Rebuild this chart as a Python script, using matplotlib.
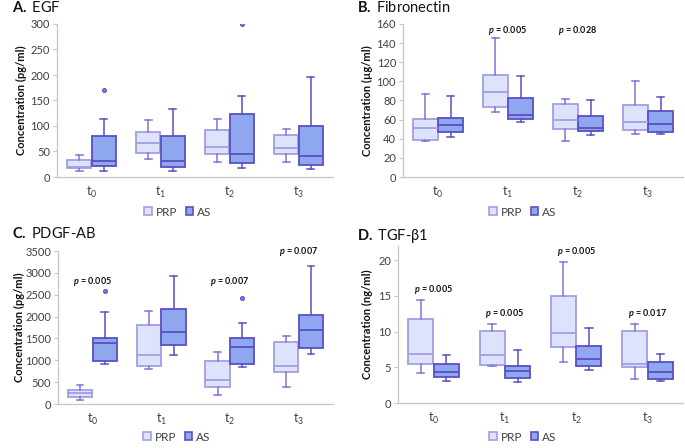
import matplotlib
matplotlib.use("Agg")
import matplotlib.pyplot as plt
from matplotlib.patches import Patch
import numpy as np

plt.rcParams['font.family'] = ['Lato', 'DejaVu Sans']
plt.rcParams['mathtext.fontset'] = 'custom'
plt.rcParams['mathtext.rm'] = 'Lato'
plt.rcParams['mathtext.it'] = 'Lato:italic'
plt.rcParams['mathtext.bf'] = 'Lato:bold'
plt.rcParams['mathtext.bfit'] = 'Lato:bold:italic'

timepoints = [r'$\mathregular{t_0}$', r'$\mathregular{t_1}$', r'$\mathregular{t_2}$', r'$\mathregular{t_3}$']

# ---- A. EGF (pg/ml) ----
egf_prp_lo  = [12, 36, 29, 29]
egf_prp_q1  = [17, 48, 46, 46]
egf_prp_med = [20, 67, 58, 57]
egf_prp_q3  = [33, 88, 92, 83]
egf_prp_hi  = [44, 111, 113, 95]
egf_prp_out = [[], [], [], []]
egf_as_lo  = [12, 12, 17, 15]
egf_as_q1  = [22, 20, 28, 24]
egf_as_med = [32, 32, 46, 41]
egf_as_q3  = [80, 80, 124, 100]
egf_as_hi  = [113, 134, 158, 196]
egf_as_out = [[170], [], [300], []]
egf_p = [None, None, None, None]

# ---- B. Fibronectin (ug/ml) ----
fn_prp_lo  = [38, 68, 38, 45]
fn_prp_q1  = [39, 73, 50, 49]
fn_prp_med = [51, 89, 60, 58]
fn_prp_q3  = [61, 107, 76, 75]
fn_prp_hi  = [87, 145, 82, 100]
fn_prp_out = [[], [], [], []]
fn_as_lo  = [42, 58, 44, 45]
fn_as_q1  = [47, 61, 48, 47]
fn_as_med = [54, 65, 51, 55]
fn_as_q3  = [62, 83, 64, 69]
fn_as_hi  = [85, 106, 81, 84]
fn_as_out = [[], [], [], []]
fn_p = [None, '0.005', '0.028', None]
fn_p_y = [None, 153, 153, None]

# ---- C. PDGF-AB (pg/ml) ----
pd_prp_lo  = [84, 807, 213, 388]
pd_prp_q1  = [150, 880, 390, 730]
pd_prp_med = [255, 1126, 550, 860]
pd_prp_q3  = [330, 1805, 985, 1420]
pd_prp_hi  = [430, 2120, 1200, 1560]
pd_prp_out = [[], [], [], []]
pd_as_lo  = [925, 1126, 845, 1141]
pd_as_q1  = [985, 1340, 925, 1285]
pd_as_med = [1405, 1655, 1305, 1697]
pd_as_q3  = [1520, 2180, 1520, 2045]
pd_as_hi  = [2105, 2930, 1857, 3165]
pd_as_out = [[2595], [], [2435], []]
pd_p = ['0.005', None, '0.007', '0.007']
pd_p_y = [2800, None, 2800, 3500]

# ---- D. TGF-b1 (ng/ml) ----
tg_prp_lo  = [4.2, 5.15, 5.7, 3.4]
tg_prp_q1  = [5.5, 5.35, 7.8, 5.0]
tg_prp_med = [6.8, 6.7, 9.75, 5.4]
tg_prp_q3  = [11.8, 10.05, 15.05, 10.15]
tg_prp_hi  = [14.5, 11.05, 19.75, 11.05]
tg_prp_out = [[], [], [], []]
tg_as_lo  = [3.05, 2.95, 4.65, 3.05]
tg_as_q1  = [3.6, 3.5, 5.15, 3.3]
tg_as_med = [4.4, 4.5, 6.2, 4.4]
tg_as_q3  = [5.5, 5.2, 7.95, 5.7]
tg_as_hi  = [6.7, 7.4, 10.45, 6.8]
tg_as_out = [[], [], [], []]
tg_p = ['0.005', '0.005', '0.005', '0.017']
tg_p_y = [15.9, 12.5, 21.2, 12.5]

PRP_FILL = '#dde3fb'
PRP_EDGE = '#a39ee4'
PRP_WHISK = '#7d74d6'
AS_FILL = '#8ea7ef'
AS_EDGE = '#5a4fc2'
AS_WHISK = '#5a4fc2'
SPINE = '#c6c6c6'
TXT = '#404040'

W, H = 685, 448
fig = plt.figure(figsize=(W / 100, H / 100), dpi=100)


def ax_rect(l, r, t, b):
    return [l / W, 1 - b / H, (r - l) / W, (b - t) / H]


def stats(lo, q1, med, q3, hi, out):
    return [dict(whislo=lo[i], q1=q1[i], med=med[i], q3=q3[i], whishi=hi[i],
                 fliers=np.array(out[i], dtype=float)) for i in range(len(lo))]


def draw_panel(rect, prp, asd, ylim, yticks, ylabel, title_b, title_n, title_xy,
               ylab_x, pvals, pys, legend_xy):
    ax = fig.add_axes(rect)
    pos = np.arange(4)
    off = 0.18
    bw = 0.35
    for st, p, fill, edge, wcol in [(prp, pos - off, PRP_FILL, PRP_EDGE, PRP_WHISK),
                                    (asd, pos + off, AS_FILL, AS_EDGE, AS_WHISK)]:
        ax.bxp(st, positions=p, widths=bw, capwidths=0.1, patch_artist=True,
               showfliers=True,
               boxprops=dict(facecolor=fill, edgecolor=edge, linewidth=1.3),
               medianprops=dict(color=edge, linewidth=1.3),
               whiskerprops=dict(color=wcol, linewidth=1.1),
               capprops=dict(color=wcol, linewidth=1.1),
               flierprops=dict(marker='o', markersize=3, markerfacecolor='#7d74e0',
                               markeredgecolor=AS_EDGE, markeredgewidth=0.6))
    ax.set_xlim(-0.5, 3.5)
    ax.set_ylim(*ylim)
    ax.set_yticks(yticks)
    ax.set_xticks(pos)
    ax.set_xticklabels(timepoints, fontsize=9, color=TXT)
    ax.tick_params(axis='x', length=0, pad=6)
    ax.tick_params(axis='y', length=3, width=0.8, color=SPINE, labelsize=8,
                   labelcolor=TXT, pad=2)
    for s in ['top', 'right']:
        ax.spines[s].set_visible(False)
    for s in ['left', 'bottom']:
        ax.spines[s].set_color(SPINE)
        ax.spines[s].set_linewidth(0.9)
    fig.text(ylab_x / W, rect[1] + rect[3] / 2,
             ylabel, rotation=90, ha='center', va='center', fontsize=8,
             fontweight='bold', color='#111111')
    fig.text(title_xy[0] / W, 1 - title_xy[1] / H,
             r'$\mathbf{' + title_b + '}$ ' + title_n, ha='left', va='center',
             fontsize=10.5, color='#111111')
    for i, (pv, py) in enumerate(zip(pvals, pys)):
        if pv is not None:
            ax.text(i, py, r'$\mathbfit{p}$ = ' + pv, ha='center', va='center',
                    fontsize=6.5, fontweight='bold', color='#111111', clip_on=False)
    handles = [Patch(facecolor=PRP_FILL, edgecolor=PRP_EDGE, linewidth=1.2),
               Patch(facecolor=AS_FILL, edgecolor=AS_EDGE, linewidth=1.2)]
    fig.legend(handles, ['PRP', 'AS'], loc='center',
               bbox_to_anchor=(legend_xy[0] / W, 1 - legend_xy[1] / H),
               ncol=2, frameon=False, fontsize=8.5, handlelength=0.65,
               handleheight=0.65, handletextpad=0.35, columnspacing=0.7,
               labelcolor=TXT)
    return ax


draw_panel(ax_rect(57, 333, 24, 177),
           stats(egf_prp_lo, egf_prp_q1, egf_prp_med, egf_prp_q3, egf_prp_hi, egf_prp_out),
           stats(egf_as_lo, egf_as_q1, egf_as_med, egf_as_q3, egf_as_hi, egf_as_out),
           (0, 300), np.arange(0, 301, 50), 'Concentration (pg/ml)', 'A.', 'EGF',
           (12, 8), 21, egf_p, [None] * 4, (178, 212))

draw_panel(ax_rect(403, 683, 24, 177),
           stats(fn_prp_lo, fn_prp_q1, fn_prp_med, fn_prp_q3, fn_prp_hi, fn_prp_out),
           stats(fn_as_lo, fn_as_q1, fn_as_med, fn_as_q3, fn_as_hi, fn_as_out),
           (0, 160), np.arange(0, 161, 20), 'Concentration (µg/ml)', 'B.', 'Fibronectin',
           (357, 8), 367, fn_p, fn_p_y, (523, 212))

draw_panel(ax_rect(58, 333, 251, 404),
           stats(pd_prp_lo, pd_prp_q1, pd_prp_med, pd_prp_q3, pd_prp_hi, pd_prp_out),
           stats(pd_as_lo, pd_as_q1, pd_as_med, pd_as_q3, pd_as_hi, pd_as_out),
           (0, 3500), np.arange(0, 3501, 500), 'Concentration (pg/ml)', 'C.', 'PDGF-AB',
           (12, 233), 19, pd_p, pd_p_y, (177, 437))

draw_panel(ax_rect(398, 683, 246, 403),
           stats(tg_prp_lo, tg_prp_q1, tg_prp_med, tg_prp_q3, tg_prp_hi, tg_prp_out),
           stats(tg_as_lo, tg_as_q1, tg_as_med, tg_as_q3, tg_as_hi, tg_as_out),
           (0, 22), np.arange(0, 21, 5), 'Concentration (ng/ml)', 'D.', 'TGF-β1',
           (357, 236), 367, tg_p, tg_p_y, (523, 437))

fig.savefig('out.png', dpi=100)
